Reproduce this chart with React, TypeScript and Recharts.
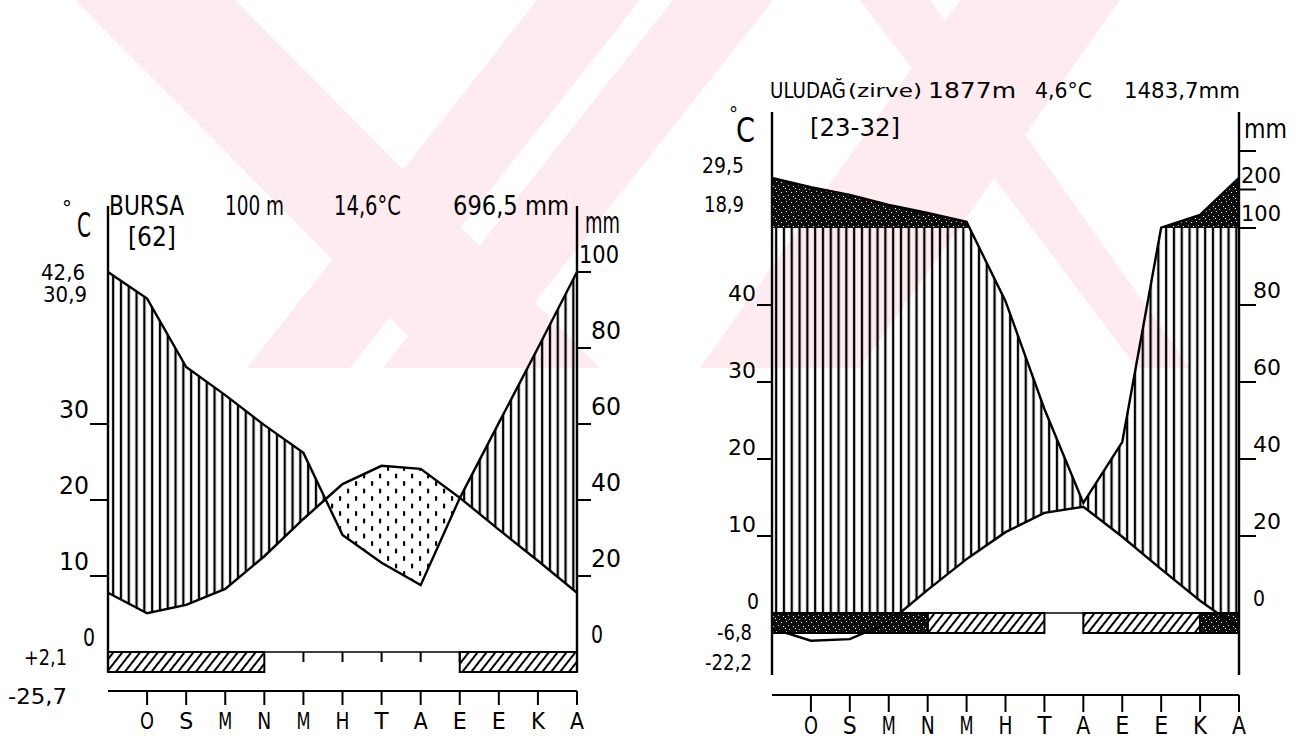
import React from "react";
import { ComposedChart, Area, Line, XAxis, YAxis, ReferenceLine, ReferenceArea } from "recharts";

const months = ["O", "S", "M", "N", "M", "H", "T", "A", "E", "E", "K", "A"];

// Bursa 100 m — monthly mean temperature (°C) and precipitation (mm), Jan..Dec
const bursaTemp = [5.1, 6.2, 8.3, 12.6, 17.5, 22.1, 24.5, 24.1, 20.3, 16.1, 12.0, 7.8];
const bursaPrecip = [93, 75, 67.6, 59.7, 52.4, 30.8, 23.5, 17.6, 40.5, 60.3, 80, 100];
// h = absolute minimum below 0, b = mean daily minimum below 0
const bursaFrost = ["h", "h", "h", "h", "", "", "", "", "", "h", "h", "h"];
const bursaTempTicks = [0, 10, 20, 30];
const bursaPrecipTicks = [0, 20, 40, 60, 80, 100];
const bursaPrecipLabels = ["0", "20", "40", "60", "80", "100"];

// Uludağ (zirve) 1877 m
const uludagTemp = [-3.6, -3.4, -1.2, 3.0, 7.0, 10.5, 13.0, 13.8, 9.9, 5.7, 1.6, -2.0];
const uludagPrecip = [206, 186, 160, 139, 116, 81, 53, 28.6, 44.4, 101, 134, 230];
const uludagFrost = ["b", "b", "b", "b", "h", "h", "h", "", "h", "h", "h", "b"];
const uludagTempTicks = [0, 10, 20, 30, 40];
const uludagPrecipTicks = [0, 20, 40, 60, 80, 100, 200, 300];
const uludagPrecipLabels = ["0", "20", "40", "60", "80", "100", "200", ""];

const FONT = "'Liberation Sans Narrow', 'DejaVu Sans Condensed', 'DejaVu Sans', sans-serif";
const PINK = "#fdebef";

// above 100 mm the precipitation scale is reduced to 1/10
const mmToPlot = (p: number) => (p <= 100 ? p : 100 + (p - 100) / 10);

interface Row { x: number; t: number; p: number; pc: number; lo: number; }

// x = 0 repeats December so both curves start on the left axis;
// extra rows are added where curves cross so the fills stay exact
function buildRows(temp: number[], precip: number[]): Row[] {
  const t = [temp[11], ...temp];
  const p = [precip[11], ...precip].map(mmToPlot);
  const mk = (x: number, tv: number, pv: number): Row => {
    const pc = Math.min(pv, 100);
    return { x, t: tv, p: pv, pc, lo: Math.max(0, Math.min(pc, 2 * tv)) };
  };
  const rows: Row[] = [];
  for (let i = 0; i <= 12; i++) {
    rows.push(mk(i, t[i], p[i]));
    if (i === 12) break;
    const cuts: number[] = [];
    const cross = (a: number, b: number) => { if (a * b < 0) cuts.push(a / (a - b)); };
    cross(p[i] - 2 * t[i], p[i + 1] - 2 * t[i + 1]);
    cross(p[i] - 100, p[i + 1] - 100);
    cross(t[i], t[i + 1]);
    cuts.sort((a, b) => a - b).forEach(f =>
      rows.push(mk(i + f, t[i] + f * (t[i + 1] - t[i]), p[i] + f * (p[i + 1] - p[i])))
    );
  }
  return rows;
}

function runs(codes: string[]) {
  const out: { code: string; x1: number; x2: number }[] = [];
  let s = 0;
  for (let i = 1; i <= 12; i++) {
    if (i === 12 || codes[i] !== codes[s]) {
      if (codes[s]) out.push({ code: codes[s], x1: s, x2: i });
      s = i;
    }
  }
  return out;
}

interface Layout {
  id: string; left: number; right: number; zeroY: number; unit: number; top: number;
  axisEnd: number; barPx: number; monthAxis: number; leftTick: number; rightTick: number;
  size: number; dyT: number; dyP: number; monthY: number; monthSize: number; monthTick: number;
  baseTicks: boolean; charW: number;
}

const bursaLayout: Layout = {
  id: "bu", left: 108, right: 577, zeroY: 652, unit: 3.8, top: 206, axisEnd: 672, barPx: 20,
  monthAxis: 691, leftTick: 18, rightTick: 14, size: 24, dyT: 6, dyP: 9, monthY: 729,
  monthSize: 23, monthTick: 14, baseTicks: true, charW: 15,
};
const uludagLayout: Layout = {
  id: "ul", left: 772, right: 1239, zeroY: 613, unit: 3.85, top: 112, axisEnd: 675, barPx: 20,
  monthAxis: 695, leftTick: 15, rightTick: 17, size: 22, dyT: 4, dyP: 7, monthY: 734,
  monthSize: 24, monthTick: 17, baseTicks: false, charW: 14,
};

const labelW = (s: string, cw: number) => (s.length === 1 ? 12 : s.length === 2 ? 2 * cw : 40);

function Climate(props: {
  L: Layout; temp: number[]; precip: number[]; frost: string[];
  tempTicks: number[]; precipTicks: number[]; precipLabels: string[];
}) {
  const { L, temp, precip, frost, tempTicks, precipTicks, precipLabels } = props;
  const rows = buildRows(temp, precip);
  const u = (px: number) => (L.zeroY - px) / L.unit;
  const hi = u(L.top);
  const lo = u(L.monthAxis);
  const id = (s: string) => `${L.id}-${s}`;

  const tempTick = (tp: any) => {
    const v = tp.payload.value;
    const s = String(v);
    const x = v === 0 ? L.left - 13 : L.left - L.leftTick - 1;
    return (
      <g>
        {v !== 0 && <line x1={L.left - L.leftTick} x2={L.left} y1={tp.y} y2={tp.y} stroke="#000" strokeWidth={2} />}
        <text x={x} y={tp.y - L.dyT} textAnchor="end" fontSize={L.size} fontFamily={FONT} fill="#000"
          textLength={labelW(s, L.charW)} lengthAdjust="spacingAndGlyphs">{s}</text>
      </g>
    );
  };
  const precipTick = (tp: any) => {
    const s = precipLabels[tp.index] ?? "";
    const v = tp.payload.value;
    const x = s.length >= 3 ? L.right + 2 : L.right + 14;
    return (
      <g>
        {v !== 0 && <line x1={L.right} x2={L.right + L.rightTick} y1={tp.y} y2={tp.y} stroke="#000" strokeWidth={2} />}
        {s && (
          <text x={x} y={tp.y - L.dyP} fontSize={L.size} fontFamily={FONT} fill="#000"
            textLength={labelW(s, L.charW)} lengthAdjust="spacingAndGlyphs">{s}</text>
        )}
      </g>
    );
  };
  const monthTick = (tp: any) => (
    <text x={tp.x} y={L.monthY} textAnchor="middle" fontSize={L.monthSize} fontFamily={FONT} fill="#000"
      textLength={14} lengthAdjust="spacingAndGlyphs">{months[tp.payload.value - 1]}</text>
  );

  const barLo = u(L.zeroY + L.barPx);
  // small month ticks on the zero line, only where no frost bar covers them
  const baseTickXs = months.map((_, k) => k + 1).filter(k => k < 12 && (!frost[k - 1] || !frost[k]) && !(frost[k - 1] && !frost[k]));

  return (
    <ComposedChart
      width={1296}
      height={741}
      data={rows}
      margin={{ top: L.top, left: L.left - 40, right: 1296 - L.right - 40, bottom: 741 - L.monthAxis - 40 }}
    >
      <defs>
        <pattern id={id("vl")} patternUnits="userSpaceOnUse" width={7.8} height={10}>
          <rect x={2.8} y={0} width={2.3} height={10} fill="#000" />
        </pattern>
        <pattern id={id("dots")} patternUnits="userSpaceOnUse" width={16} height={15}>
          <rect x={3} y={1} width={2.2} height={5} rx={1} fill="#000" />
          <rect x={11} y={8.5} width={2.2} height={5} rx={1} fill="#000" />
        </pattern>
        <pattern id={id("diag")} patternUnits="userSpaceOnUse" width={7} height={7} patternTransform="rotate(38)">
          <rect x={0} y={0} width={2} height={7} fill="#000" />
        </pattern>
        <pattern id={id("speck")} patternUnits="userSpaceOnUse" width={10} height={10}>
          <rect width={10} height={10} fill="#0d0d0d" />
          <rect x={1} y={2} width={1} height={1} fill="#fff" />
          <rect x={6} y={1} width={1} height={1} fill="#ddd" />
          <rect x={3} y={6} width={1} height={1} fill="#fff" />
          <rect x={8} y={5} width={1} height={1} fill="#ccc" />
          <rect x={5} y={8} width={1} height={1} fill="#fff" />
          <rect x={9} y={9} width={1} height={1} fill="#bbb" />
        </pattern>
      </defs>
      <XAxis
        dataKey="x" type="number" domain={[0, 12]} ticks={[1, 2, 3, 4, 5, 6, 7, 8, 9, 10, 11, 12]}
        interval={0} height={40} tickSize={L.monthTick} allowDataOverflow
        axisLine={{ stroke: "#000", strokeWidth: 2 }} tickLine={{ stroke: "#000", strokeWidth: 2 }}
        tick={monthTick}
      />
      <YAxis yAxisId="t" orientation="left" width={40} domain={[lo / 2, hi / 2]} ticks={tempTicks}
        interval={0} axisLine={false} tickLine={false} tick={tempTick} allowDataOverflow />
      <YAxis yAxisId="p" orientation="right" width={40} domain={[lo, hi]} ticks={precipTicks.map(mmToPlot)}
        interval={0} axisLine={false} tickLine={false} tick={precipTick} allowDataOverflow />

      <Area yAxisId="p" type="linear" dataKey={(d: Row) => [0, d.pc]} fill={`url(#${id("vl")})`} fillOpacity={1}
        stroke="none" dot={false} activeDot={false} isAnimationActive={false} />
      <Area yAxisId="p" type="linear" dataKey={(d: Row) => [d.pc, Math.max(d.pc, 2 * d.t)]} fill={`url(#${id("dots")})`}
        fillOpacity={1} stroke="none" dot={false} activeDot={false} isAnimationActive={false} />
      <Area yAxisId="p" type="linear" dataKey={(d: Row) => [0, d.lo]} fill="#fff" fillOpacity={1}
        stroke="none" dot={false} activeDot={false} isAnimationActive={false} />
      <Area yAxisId="p" type="linear" dataKey={(d: Row) => [100, Math.max(100, d.p)]} fill={`url(#${id("speck")})`}
        fillOpacity={1} stroke="none" dot={false} activeDot={false} isAnimationActive={false} />

      <Line yAxisId="t" type="linear" dataKey="t" stroke="#000" strokeWidth={2.4} dot={false} activeDot={false} isAnimationActive={false} />
      <Line yAxisId="p" type="linear" dataKey="p" stroke="#000" strokeWidth={2.4} dot={false} activeDot={false} isAnimationActive={false} />

      <ReferenceLine yAxisId="p" y={0} stroke="#000" strokeWidth={1.6} />
      {L.baseTicks && baseTickXs.map(k => (
        <ReferenceLine key={k} yAxisId="p" segment={[{ x: k, y: 0 }, { x: k, y: u(L.zeroY + 10) }]}
          stroke="#000" strokeWidth={2} />
      ))}
      {runs(frost).map(r => (
        <ReferenceArea key={r.x1} yAxisId="p" x1={r.x1} x2={r.x2} y1={barLo} y2={0}
          fill={`url(#${id(r.code === "b" ? "speck" : "diag")})`} fillOpacity={1} stroke="#000" strokeWidth={2} />
      ))}
      <ReferenceLine yAxisId="p" segment={[{ x: 0, y: u(L.axisEnd) }, { x: 0, y: hi }]} stroke="#000" strokeWidth={2.4} />
      <ReferenceLine yAxisId="p" segment={[{ x: 12, y: u(L.axisEnd) }, { x: 12, y: hi }]} stroke="#000" strokeWidth={2.4} />
    </ComposedChart>
  );
}

function Txt(p: { x: number; y: number; w?: number; size: number; children: string }) {
  return (
    <text x={p.x} y={p.y} fontSize={p.size} fontFamily={FONT} fill="#000"
      textLength={p.w} lengthAdjust={p.w ? "spacingAndGlyphs" : undefined}>{p.children}</text>
  );
}

const layer: React.CSSProperties = { position: "absolute", left: 0, top: 0, width: 1296, height: 741 };

export default function App() {
  return (
    <div style={{ ...layer, background: "#fff", overflow: "hidden" }}>
      <svg width={1296} height={741} style={layer}>
        <polygon points="75,0 235,0 600,368 440,368" fill={PINK} />
        <polygon points="1120,0 960,0 700,368 860,368" fill={PINK} />
        <polygon points="247,368 350,368 640,0 537,0" fill={PINK} />
        <polygon points="383,368 483,368 773,0 673,0" fill={PINK} />
        <polygon points="1190,368 1137,368 860,0 930,0" fill={PINK} />
      </svg>
      <div style={layer}>
        <Climate L={bursaLayout} temp={bursaTemp} precip={bursaPrecip} frost={bursaFrost}
          tempTicks={bursaTempTicks} precipTicks={bursaPrecipTicks} precipLabels={bursaPrecipLabels} />
      </div>
      <div style={layer}>
        <Climate L={uludagLayout} temp={uludagTemp} precip={uludagPrecip} frost={uludagFrost}
          tempTicks={uludagTempTicks} precipTicks={uludagPrecipTicks} precipLabels={uludagPrecipLabels} />
      </div>
      <svg width={1296} height={741} style={{ ...layer, pointerEvents: "none" }}>
        {/* Bursa header */}
        <Txt x={62} y={216} size={22}>°</Txt>
        <Txt x={77} y={237} w={14} size={34}>C</Txt>
        <Txt x={109} y={215} w={75} size={27}>BURSA</Txt>
        <Txt x={225} y={215} w={59} size={27}>100 m</Txt>
        <Txt x={334} y={215} w={67} size={27}>14,6°C</Txt>
        <Txt x={453} y={215} w={116} size={27}>696,5 mm</Txt>
        <Txt x={128} y={246} w={48} size={26}>[62]</Txt>
        <Txt x={41} y={280} w={44} size={21}>42,6</Txt>
        <Txt x={43} y={302} w={44} size={21}>30,9</Txt>
        <Txt x={24} y={665} w={43} size={22}>+2,1</Txt>
        <Txt x={8} y={704} w={59} size={22}>-25,7</Txt>
        <Txt x={585} y={233} w={35} size={30}>mm</Txt>
        {/* Uludağ header */}
        <Txt x={770} y={98} w={76} size={21}>ULUDAĞ</Txt>
        <Txt x={848} y={97} w={74} size={18}>(zirve)</Txt>
        <Txt x={928} y={98} w={88} size={21}>1877m</Txt>
        <Txt x={1035} y={98} w={57} size={21}>4,6°C</Txt>
        <Txt x={1124} y={98} w={116} size={21}>1483,7mm</Txt>
        <Txt x={729} y={121} size={20}>°</Txt>
        <Txt x={736} y={142} w={19} size={33}>C</Txt>
        <Txt x={810} y={136} w={90} size={25}>[23-32]</Txt>
        <Txt x={702} y={173} w={42} size={22}>29,5</Txt>
        <Txt x={704} y={212} w={40} size={22}>18,9</Txt>
        <Txt x={717} y={640} w={35} size={22}>-6,8</Txt>
        <Txt x={705} y={670} w={47} size={22}>-22,2</Txt>
        <Txt x={1244} y={138} w={43} size={26}>mm</Txt>
      </svg>
    </div>
  );
}
